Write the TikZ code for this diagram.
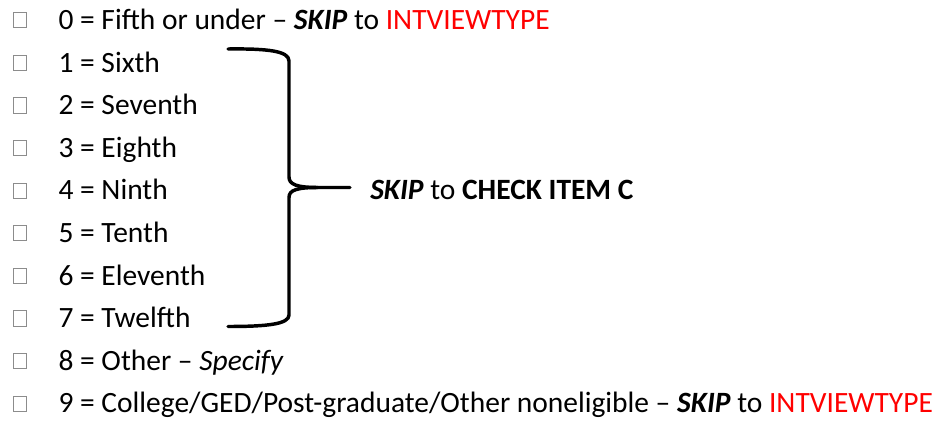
\documentclass[tikz,border=0pt]{standalone}
\usepackage{fontspec}
\setmainfont{Carlito}
\definecolor{skipred}{RGB}{255,0,0}
\definecolor{boxgray}{RGB}{140,140,140}
\tikzset{
  opt/.style={anchor=base west, inner sep=0pt, font=\fontsize{22.1}{26}\selectfont},
  cbox/.style={draw=boxgray, line width=0.75pt},
  bracepath/.style={line width=2.6pt, line cap=round, line join=round}
}
\newcommand{\red}[1]{\textcolor{skipred}{#1}}
\begin{document}
\begin{tikzpicture}[x=0.75pt,y=-0.75pt]
\useasboundingbox (0,0) rectangle (935,421);
\foreach \i in {0,...,9} {
  \pgfmathsetmacro{\yb}{29.5+42.6*\i}
  \draw[cbox] (13.2,\yb-16.8) rectangle (26.2,\yb-1.6);
}
\node[opt] (r0) at (58.3,29.5) {0 = Fifth or under -- \textbf{\textit{SKIP}} to \red{INTVIEWTYPE}};
\node[opt] (r1) at (58.3,72.1) {1 = Sixth};
\node[opt] (r2) at (58.3,114.7) {2 = Seventh};
\node[opt] (r3) at (58.3,157.3) {3 = Eighth};
\node[opt] (r4) at (58.3,199.9) {4 = Ninth};
\node[opt] (r5) at (58.3,242.5) {5 = Tenth};
\node[opt] (r6) at (58.3,285.1) {6 = Eleventh};
\node[opt] (r7) at (58.3,327.7) {7 = Twelfth};
\node[opt] (r8) at (58.3,370.3) {8 = Other -- \textit{Specify}};
\node[opt] (r9) at (58.3,412.9) {9 = College/GED/Post-graduate/Other noneligible -- \textbf{\textit{SKIP}} to \red{INTVIEWTYPE}};
\node[opt] (skip) at (370,199.9) {\textbf{\textit{SKIP}} to \textbf{CHECK ITEM C}};
\coordinate (btop) at (228,49);
\coordinate (bbot) at (228,326.5);
\coordinate (btip) at (350,187.5);
\draw[bracepath] (btop) .. controls (268,48.5) and (289,51) .. (289,61) -- (289,177)
  .. controls (289,184.5) and (297,187.5) .. (318,187.5) -- (btip);
\draw[bracepath] (318,187.5) .. controls (297,187.5) and (289,190) .. (289,197.5) -- (289,315)
  .. controls (289,324) and (268,326.5) .. (bbot);
\end{tikzpicture}
\end{document}
